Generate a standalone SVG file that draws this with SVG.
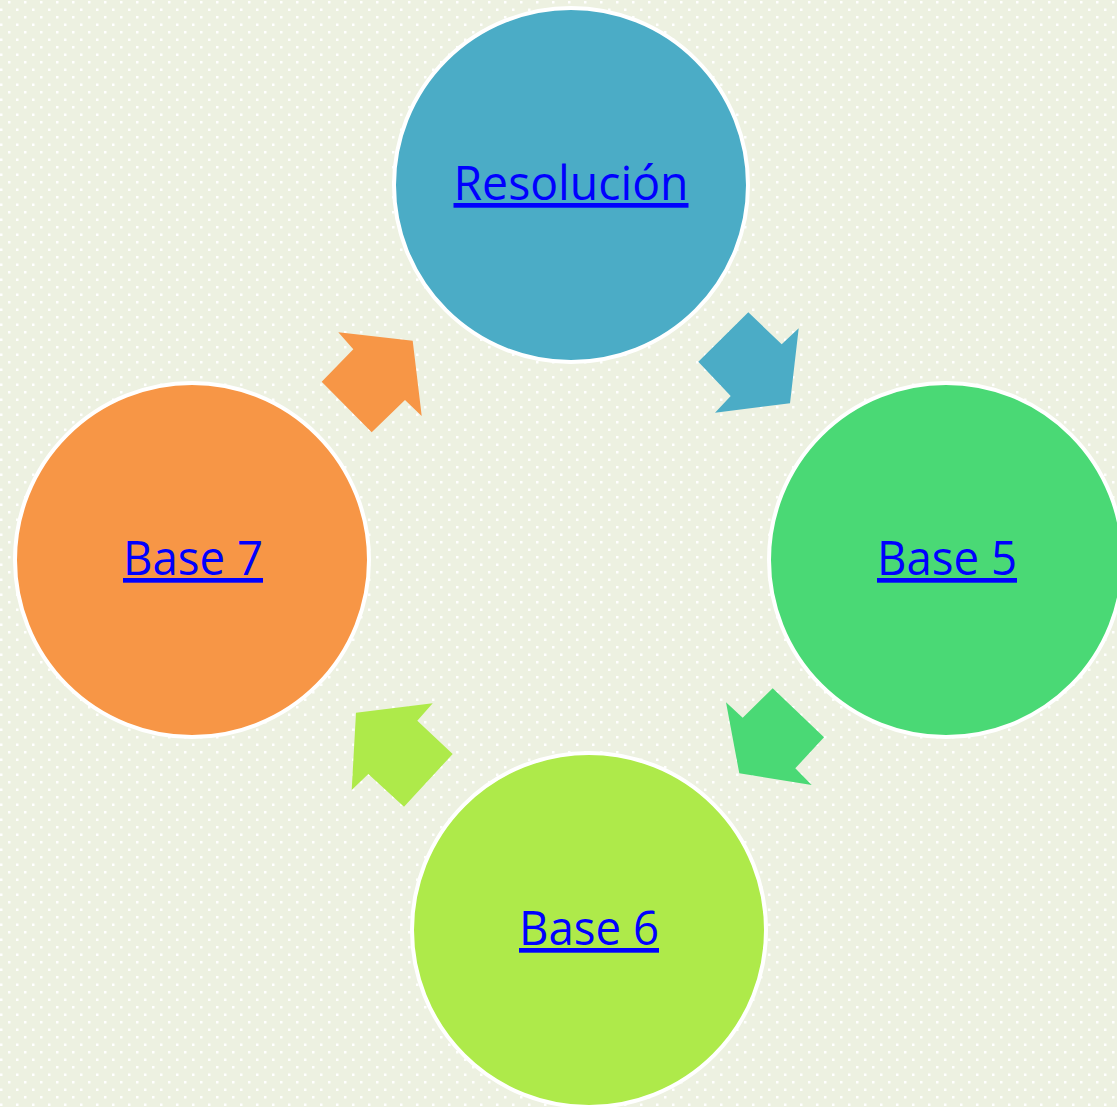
<svg xmlns="http://www.w3.org/2000/svg" width="1117" height="1107" viewBox="0 0 1117 1107">
<defs>
<pattern id="dots" x="0" y="0" width="16" height="15" patternUnits="userSpaceOnUse">
<rect width="16" height="15" fill="#EDF1E1"/>
<rect x="8" y="1" width="2.5" height="2.5" fill="#FFFFFF"/>
<rect x="0" y="8.5" width="2.5" height="2.5" fill="#FFFFFF"/>
</pattern>
<style>
.c{stroke:#FFFFFF;stroke-width:4}
.t{font-family:"Open Sans","Liberation Sans",sans-serif;font-size:47px;fill:#0000FF;text-decoration:underline;text-anchor:middle}
</style>
</defs>
<rect width="1117" height="1107" fill="url(#dots)"/>
<g id="connectors">
<polygon points="748.3,312.3 781.7,344.3 798.7,328.3 790,403.3 715,412.7 730.7,396 698.3,361.7" fill="#4BACC6"/>
<polygon points="772.7,688.3 824,737.3 795.3,768.3 811.7,785 739.3,773.3 726,702.3 742.7,717.7" fill="#4AD975"/>
<polygon points="432.7,703.3 417.3,720.7 452.7,754 404,806.7 368.3,774 351.7,790 356,712.7" fill="#AEEA4A"/>
<polygon points="338.3,332.3 412.7,340.7 421.7,416 405,400 371.7,432.3 321.7,381.7 353.3,349.3" fill="#F79646"/>
</g>
<g id="node-resolucion">
<circle class="c" cx="571" cy="185" r="177" fill="#4BACC6"/>
<text class="t" x="571" y="200" textLength="235" lengthAdjust="spacingAndGlyphs">Resolución</text>
</g>
<g id="node-base5">
<circle class="c" cx="946" cy="560" r="177" fill="#4AD975"/>
<text class="t" x="947" y="575" textLength="140" lengthAdjust="spacingAndGlyphs">Base 5</text>
</g>
<g id="node-base6">
<circle class="c" cx="589" cy="930" r="177" fill="#AEEA4A"/>
<text class="t" x="589" y="945" textLength="140" lengthAdjust="spacingAndGlyphs">Base 6</text>
</g>
<g id="node-base7">
<circle class="c" cx="192" cy="560" r="177" fill="#F79646"/>
<text class="t" x="193" y="575" textLength="140" lengthAdjust="spacingAndGlyphs">Base 7</text>
</g>
</svg>
